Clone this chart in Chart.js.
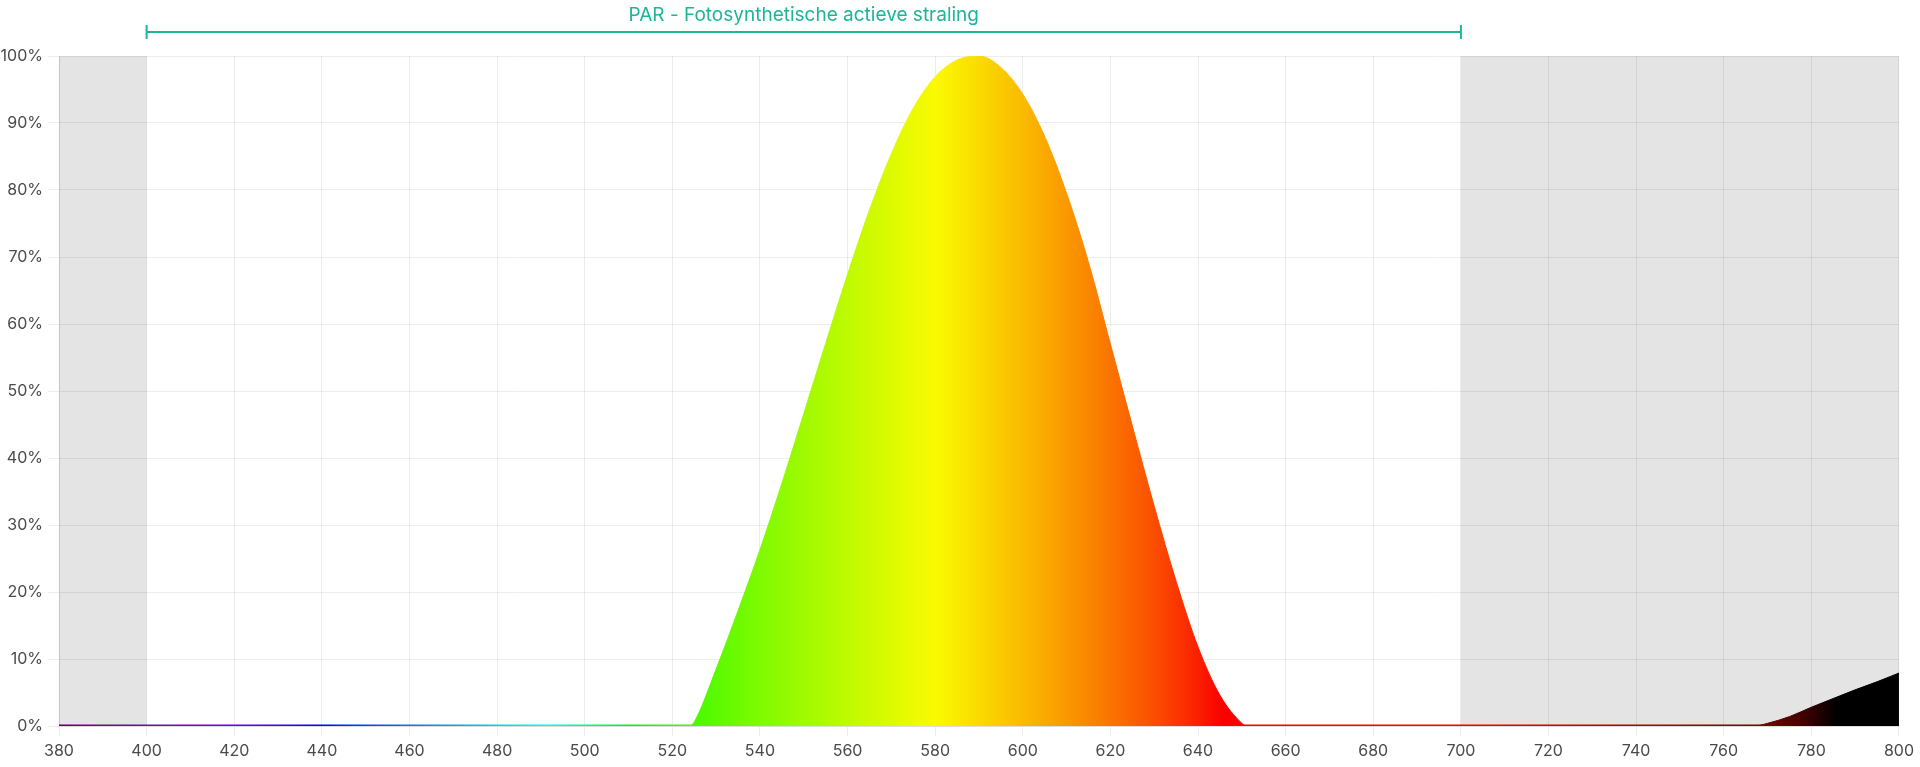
<!DOCTYPE html>
<html>
<head>
<meta charset="utf-8">
<title>PAR spectrum</title>
<script src="https://cdn.jsdelivr.net/npm/chart.js@4.4.1/dist/chart.umd.min.js"></script>
<style>
  body { margin: 0; background: #fff; }
  #wrap { width: 1920px; height: 767px; position: relative; }
</style>
</head>
<body>
<div id="wrap"><canvas id="spectrumChart"></canvas></div>
<script>
// Wavelength (nm) and relative intensity (%)
const wavelengths = [380, 524, 525, 530, 535, 540, 545, 550, 555, 560, 565, 570, 575, 580, 585, 590,
                     595, 600, 605, 610, 615, 620, 625, 630, 635, 640, 645, 650, 651,
                     767, 770, 775, 780, 785, 790, 795, 800];
const intensity = [0, 0, 0.6, 8.5, 17.2, 26.3, 36.2, 46.6, 57.1, 67.4, 77, 85.4, 92.2, 96.9, 99.4, 100,
                   98.3, 94.3, 88, 79.5, 69.2, 57, 44.8, 32.8, 21.6, 11.8, 4.6, 0.4, 0,
                   0, 0.4, 1.4, 2.8, 4.1, 5.4, 6.6, 7.9];

const xTicks = [380, 400, 420, 440, 460, 480, 500, 520, 540, 560, 580, 600, 620, 640, 660, 680,
                700, 720, 740, 760, 780, 800];
const yTicks = [0, 10, 20, 30, 40, 50, 60, 70, 80, 90, 100];

const parRange = [400, 700];
const parLabel = 'PAR - Fotosynthetische actieve straling';
const shadedRanges = [[380, 400], [700, 800]];

const teal = '#1bb598';
const fontFamily = 'Inter, "Open Sans", sans-serif';

// rough wavelength -> rgb (Bruton style), fading to black past ~770 nm
function wavelengthColor(nm) {
    let r = 0, g = 0, b = 0;
    if (nm < 440) { r = (440 - nm) / 60; b = 1; }
    else if (nm < 490) { g = (nm - 440) / 50; b = 1; }
    else if (nm < 510) { g = 1; b = (510 - nm) / 20; }
    else if (nm < 580) { r = (nm - 510) / 70; g = 1; }
    else if (nm < 645) { r = 1; g = (645 - nm) / 65; }
    else { r = 1; }
    let f = 1;
    if (nm < 420) f = 0.3 + 0.7 * (nm - 380) / 40;
    else if (nm > 770) f = Math.max(0, 0.39 * (785 - nm) / 15);
    else if (nm > 700) f = 0.3 + 0.7 * (780 - nm) / 80;
    const c = v => Math.round(250 * Math.pow(v * f, 0.8));
    return `rgb(${c(r)}, ${c(g)}, ${c(b)})`;
}

function spectrumGradient(context) {
    const chart = context.chart;
    const { ctx, chartArea, scales } = chart;
    if (!chartArea) return null;
    const x0 = scales.x.getPixelForValue(380);
    const x1 = scales.x.getPixelForValue(800);
    const grad = ctx.createLinearGradient(x0, 0, x1, 0);
    for (let nm = 380; nm <= 800; nm += 2) {
        grad.addColorStop((nm - 380) / 420, wavelengthColor(nm));
    }
    return grad;
}

// grey bands behind the grid + PAR bracket on top
const backdropPlugin = {
    id: 'backdrop',
    beforeDraw(chart) {
        const { ctx, chartArea: a, scales: { x } } = chart;
        ctx.save();
        ctx.fillStyle = '#e4e4e4';
        shadedRanges.forEach(([from, to]) => {
            const x0 = x.getPixelForValue(from);
            const x1 = x.getPixelForValue(to);
            ctx.fillRect(x0, a.top, x1 - x0, a.bottom - a.top);
        });
        ctx.restore();
    },
    afterDraw(chart) {
        const { ctx, scales: { x } } = chart;
        const x0 = x.getPixelForValue(parRange[0]);
        const x1 = x.getPixelForValue(parRange[1]);
        const y = 32;
        ctx.save();
        ctx.strokeStyle = teal;
        ctx.lineWidth = 2;
        ctx.beginPath();
        ctx.moveTo(x0, y); ctx.lineTo(x1, y);
        ctx.moveTo(x0, y - 7); ctx.lineTo(x0, y + 7);
        ctx.moveTo(x1, y - 7); ctx.lineTo(x1, y + 7);
        ctx.stroke();
        ctx.fillStyle = teal;
        ctx.font = `19px ${fontFamily}`;
        ctx.textAlign = 'center';
        ctx.textBaseline = 'alphabetic';
        ctx.fillText(parLabel, (x0 + x1) / 2, 21);
        ctx.restore();
    }
};

const gridColor = 'rgba(0, 0, 0, 0.07)';
const tickFont = { family: fontFamily, size: 16 };

new Chart(document.getElementById('spectrumChart'), {
    type: 'line',
    data: {
        datasets: [{
            data: [{ x: 380, y: 0 }, { x: 800, y: 0 }],
            borderColor: spectrumGradient,
            borderWidth: 3,
            pointRadius: 0,
            fill: false
        }, {
            data: wavelengths.map((w, i) => ({ x: w, y: intensity[i] })),
            borderColor: spectrumGradient,
            backgroundColor: spectrumGradient,
            borderWidth: 1,
            pointRadius: 0,
            cubicInterpolationMode: 'monotone',
            fill: 'origin'
        }]
    },
    options: {
        responsive: true,
        maintainAspectRatio: false,
        animation: false,
        layout: { padding: { top: 56, right: 20, left: 0, bottom: 0 } },
        plugins: { legend: { display: false }, tooltip: { enabled: false } },
        scales: {
            x: {
                type: 'linear',
                min: 380,
                max: 800,
                afterBuildTicks: scale => { scale.ticks = xTicks.map(v => ({ value: v })); },
                afterFit: scale => { scale.height = 41; },
                grid: { color: gridColor, tickLength: 10 },
                border: { color: gridColor },
                ticks: { color: '#4a4a4a', font: tickFont, padding: 6, maxRotation: 0 }
            },
            y: {
                min: 0,
                max: 100,
                afterBuildTicks: scale => { scale.ticks = yTicks.map(v => ({ value: v })); },
                afterFit: scale => { scale.width = 59; },
                grid: { color: gridColor, tickLength: 11 },
                border: { color: gridColor },
                ticks: { color: '#4a4a4a', font: tickFont, padding: 5, callback: v => v + '%' }
            }
        }
    },
    plugins: [backdropPlugin]
});
</script>
</body>
</html>
